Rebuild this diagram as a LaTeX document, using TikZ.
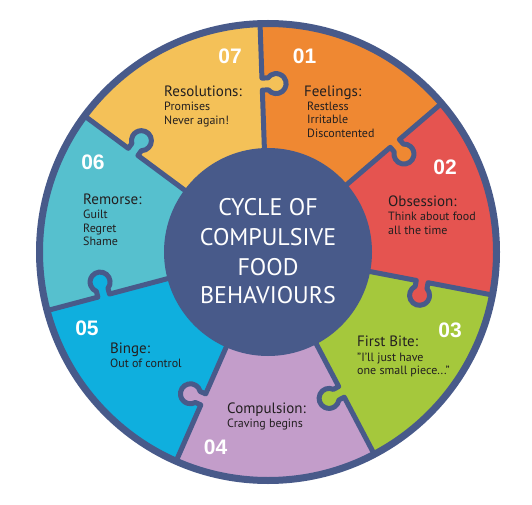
\documentclass[tikz,border=0pt]{standalone}
\usepackage{fontspec}
\setmainfont{PT Sans}
\newfontfamily\numfont{Liberation Sans}
\definecolor{rim}{RGB}{72,90,138}
\definecolor{c01}{RGB}{239,136,50}
\definecolor{c02}{RGB}{229,84,80}
\definecolor{c03}{RGB}{165,200,60}
\definecolor{c04}{RGB}{195,157,202}
\definecolor{c05}{RGB}{15,175,222}
\definecolor{c06}{RGB}{86,192,206}
\definecolor{c07}{RGB}{244,193,88}
\definecolor{txt}{RGB}{35,31,32}
\tikzset{
  head/.style={anchor=base west, font=\fontsize{15}{17}\selectfont, text=txt, inner sep=0pt},
  body/.style={anchor=base west, font=\fontsize{12}{14}\selectfont, text=txt, inner sep=0pt},
  num/.style={font=\numfont\bfseries\fontsize{21}{21}\selectfont, text=white, inner sep=0pt},
  ctr/.style={anchor=base, font=\fontsize{24}{26}\selectfont, text=white, inner sep=0pt},
  edge/.style={draw=rim, line width=5pt, line join=round}
}
\begin{document}
\begin{tikzpicture}[x=1pt,y=1pt]
\useasboundingbox (0,0) rectangle (532,504);
\fill[white] (0,0) rectangle (532,504);
\begin{scope}[shift={(268,252)}]
  % sectors
  \foreach \a/\c in {40.571/c01, -10.857/c02, -62.286/c03, -113.714/c04, -165.143/c05, -216.571/c06, -268/c07}
    \fill[\c] (0,0) -- (\a:228.5) arc[start angle=\a, end angle=\a+51.4286, radius=228.5] -- cycle;
  % tabs and dividing lines
  \foreach \a/\c/\rc in {92/c07/168, 40.571/c01/167, -10.857/c02/157, -62.286/c03/158, -113.714/c04/161, -165.143/c05/170, 143.429/c06/168}{
    \begin{scope}[rotate=\a]
      \fill[\c] (\rc-6,1) -- (\rc-6,-6) arc[start angle=126.87, end angle=413.13, radius=10] -- (\rc+6,1) -- cycle;
      \draw[edge] (90,0) -- (\rc-6,0) -- (\rc-6,-6) arc[start angle=126.87, end angle=413.13, radius=10] -- (\rc+6,0) -- (228.5,0);
    \end{scope}
  }
  \draw[rim, line width=7pt] (0,0) circle[radius=228.5];
  \fill[rim] (0,0) circle[radius=104];
\end{scope}
\begin{scope}[yshift=504pt, y=-1pt]
  % centre title
  \node[ctr] (t1) at (268,215) {CYCLE OF};
  \node[ctr] (t2) at (268,245) {COMPULSIVE};
  \node[ctr] (t3) at (268,275) {FOOD};
  \node[ctr] (t4) at (268,303.5) {BEHAVIOURS};
  % numbers
  \node[num] (n07) at (230,56) {07};
  \node[num] (n01) at (304.5,56) {01};
  \node[num] (n02) at (445,167) {02};
  \node[num] (n03) at (450,330) {03};
  \node[num] (n04) at (215.5,447) {04};
  \node[num] (n05) at (87,328) {05};
  \node[num] (n06) at (93,162) {06};
  % 07
  \node[head] (h07) at (164,96.7) {Resolutions:};
  \node[body] (b07a) at (164,110.7) {Promises};
  \node[body] (b07b) at (164,124.2) {Never again!};
  % 01
  \node[head] (h01) at (304,96.7) {Feelings:};
  \node[body] (b01a) at (307,110.2) {Restless};
  \node[body] (b01b) at (307,123.9) {Irritable};
  \node[body] (b01c) at (307,137.4) {Discontented};
  % 02
  \node[head] (h02) at (388,206.7) {Obsession:};
  \node[body] (b02a) at (388,220.7) {Think about food};
  \node[body] (b02b) at (388,234.2) {all the time};
  % 03
  \node[head] (h03) at (357,346) {First Bite:};
  \node[body] (b03a) at (357,361) {"I’ll just have};
  \node[body] (b03b) at (357,374.5) {one small piece...”};
  % 04
  \node[head] (h04) at (227,413) {Compulsion:};
  \node[body] (b04a) at (227,427) {Craving begins};
  % 05
  \node[head] (h05) at (110,353) {Binge:};
  \node[body] (b05a) at (110,367) {Out of control};
  % 06
  \node[head] (h06) at (83,205) {Remorse:};
  \node[body] (b06a) at (83,218.5) {Guilt};
  \node[body] (b06b) at (83,232) {Regret};
  \node[body] (b06c) at (83,245.5) {Shame};
\end{scope}
\end{tikzpicture}
\end{document}
